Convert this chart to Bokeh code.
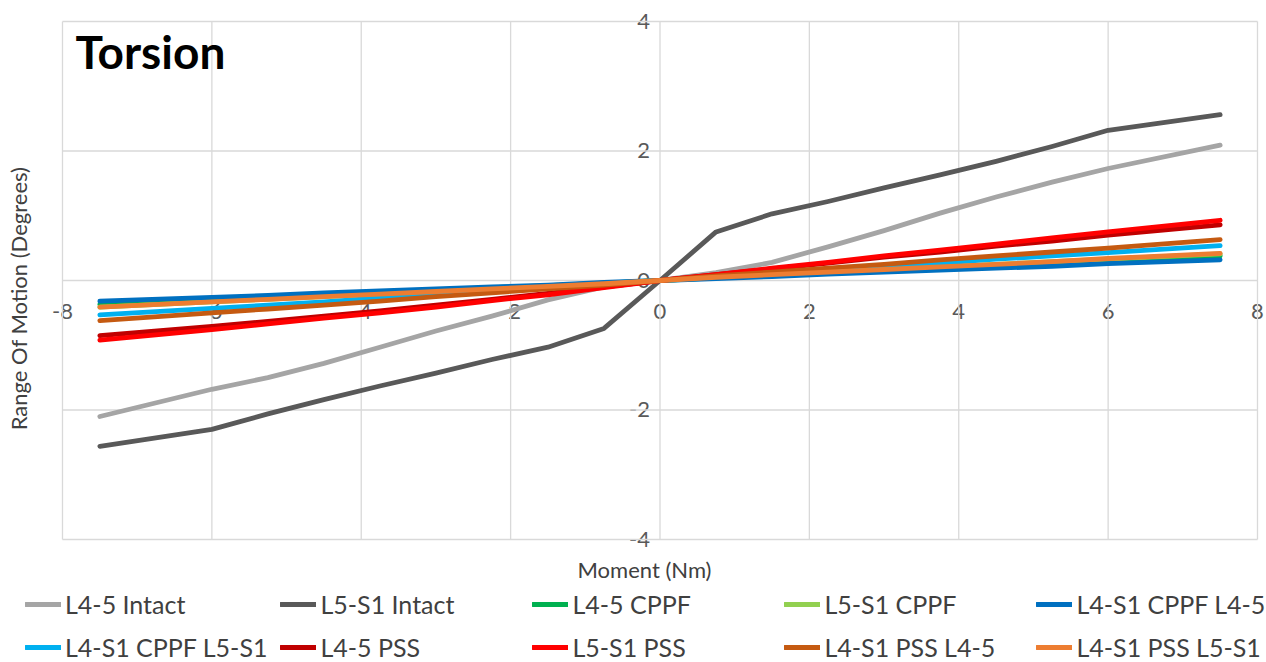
from bokeh.plotting import figure
from bokeh.models import (Range1d, LinearAxis, FixedTicker, Legend, LegendItem, Label)
from bokeh.embed import file_html
from bokeh.resources import INLINE

# ---- data ----
moment = [-7.5, -6, -5.25, -4.5, -3.75, -3, -2.25, -1.5, -0.75, 0,
          0.75, 1.5, 2.25, 3, 3.75, 4.5, 5.25, 6, 7.5]

l45_intact = [-2.10, -1.68, -1.50, -1.28, -1.03, -0.78, -0.55, -0.30, -0.10, 0,
              0.12, 0.28, 0.52, 0.77, 1.04, 1.29, 1.52, 1.73, 2.09]
l5s1_intact = [-2.56, -2.30, -2.06, -1.84, -1.63, -1.43, -1.22, -1.03, -0.74, 0,
               0.75, 1.03, 1.22, 1.43, 1.63, 1.84, 2.07, 2.32, 2.56]
l45_cppf = [-0.37, -0.30, -0.26, -0.22, -0.19, -0.15, -0.11, -0.08, -0.04, 0,
            0.04, 0.08, 0.11, 0.15, 0.19, 0.22, 0.26, 0.30, 0.38]
l5s1_cppf = [-0.41, -0.33, -0.29, -0.25, -0.21, -0.17, -0.13, -0.09, -0.05, 0,
             0.05, 0.09, 0.13, 0.17, 0.21, 0.25, 0.29, 0.33, 0.41]
l4s1_cppf_l45 = [-0.32, -0.26, -0.23, -0.19, -0.16, -0.13, -0.10, -0.07, -0.03, 0,
                 0.03, 0.06, 0.10, 0.13, 0.16, 0.19, 0.22, 0.26, 0.32]
l4s1_cppf_l5s1 = [-0.53, -0.43, -0.38, -0.33, -0.27, -0.22, -0.16, -0.11, -0.06, 0,
                  0.06, 0.11, 0.16, 0.22, 0.27, 0.33, 0.38, 0.43, 0.54]
l45_pss = [-0.85, -0.71, -0.63, -0.55, -0.47, -0.38, -0.29, -0.20, -0.10, 0,
           0.09, 0.18, 0.27, 0.36, 0.44, 0.53, 0.61, 0.70, 0.86]
l5s1_pss = [-0.92, -0.76, -0.67, -0.58, -0.50, -0.41, -0.31, -0.22, -0.11, 0,
            0.09, 0.19, 0.28, 0.38, 0.47, 0.56, 0.66, 0.75, 0.93]
l4s1_pss_l45 = [-0.62, -0.50, -0.44, -0.38, -0.32, -0.25, -0.19, -0.13, -0.07, 0,
                0.07, 0.13, 0.19, 0.25, 0.32, 0.38, 0.44, 0.50, 0.63]
l4s1_pss_l5s1 = [-0.41, -0.33, -0.29, -0.25, -0.21, -0.17, -0.13, -0.09, -0.05, 0,
                 0.05, 0.09, 0.13, 0.17, 0.21, 0.25, 0.29, 0.34, 0.42]

series_names = ["L4-5 Intact", "L5-S1 Intact", "L4-5 CPPF", "L5-S1 CPPF",
                "L4-S1 CPPF L4-5", "L4-S1 CPPF L5-S1", "L4-5 PSS", "L5-S1 PSS",
                "L4-S1 PSS L4-5", "L4-S1 PSS L5-S1"]
series_values = [l45_intact, l5s1_intact, l45_cppf, l5s1_cppf, l4s1_cppf_l45,
                 l4s1_cppf_l5s1, l45_pss, l5s1_pss, l4s1_pss_l45, l4s1_pss_l5s1]
series_colors = ["#A5A5A5", "#595959", "#00B050", "#92D050", "#0070C0",
                 "#00B0F0", "#C00000", "#FF0000", "#C55A11", "#ED7D31"]

x_ticks = [-8, -6, -4, -2, 0, 2, 4, 6, 8]
x_tick_labels = ["-8", "-6", "-4", "-2", "0", "2", "4", "6", "8"]
y_ticks = [-4, -2, 0, 2, 4]
y_tick_labels = ["-4", "-2", "0", "2", "4"]

chart_title = "Torsion"
x_title = "Moment (Nm)"
y_title = "Range Of Motion (Degrees)"

FONT = "Lato"
GRID = "#D9D9D9"
LABEL = "#595959"
TEXT = "#404040"

# the frame covers the whole canvas; the -8..8 / -4..4 box sits inside it
p = figure(width=1266, height=662, x_range=Range1d(-8.830, 8.1205),
           y_range=Range1d(-5.8996, 4.3243),
           output_backend="svg", toolbar_location=None,
           min_border_left=0, min_border_right=0, min_border_top=0, min_border_bottom=0)
p.outline_line_color = None
p.background_fill_color = "white"
p.border_fill_color = "white"
p.xgrid.visible = False
p.ygrid.visible = False
p.xaxis.visible = False
p.yaxis.visible = False

# grid lines drawn from the tick lists
p.segment(x0=x_ticks, y0=[y_ticks[0]] * len(x_ticks), x1=x_ticks, y1=[y_ticks[-1]] * len(x_ticks),
          line_color=GRID, line_width=1.3)
p.segment(x0=[x_ticks[0]] * len(y_ticks), y0=y_ticks, x1=[x_ticks[-1]] * len(y_ticks), y1=y_ticks,
          line_color=GRID, line_width=1.3)

xax = LinearAxis(fixed_location=0, ticker=FixedTicker(ticks=x_ticks),
                 major_label_overrides={t: s for t, s in zip(x_ticks, x_tick_labels)},
                 axis_line_color=None, major_tick_line_color=None, minor_tick_line_color=None,
                 major_tick_out=0, major_tick_in=0, major_label_standoff=24,
                 major_label_text_font=FONT, major_label_text_font_size="22px",
                 major_label_text_color=LABEL, level="underlay")
p.add_layout(xax, "below")
yax = LinearAxis(fixed_location=0, ticker=FixedTicker(ticks=y_ticks),
                 major_label_overrides={t: s for t, s in zip(y_ticks, y_tick_labels)},
                 axis_line_color=None, major_tick_line_color=None, minor_tick_line_color=None,
                 major_tick_out=0, major_tick_in=0, major_label_standoff=10,
                 major_label_text_font=FONT, major_label_text_font_size="22px",
                 major_label_text_color=LABEL, level="underlay")
p.add_layout(yax, "left")

renderers = []
for name, vals, col in zip(series_names, series_values, series_colors):
    r = p.line(moment, vals, line_color=col, line_width=4.8,
               line_cap="round", line_join="round")
    renderers.append(r)

legend = Legend(items=[LegendItem(label=n, renderers=[r]) for n, r in zip(series_names, renderers)],
                orientation="horizontal", ncols=5, location=(25, 0),
                padding=0, margin=0, spacing=13, glyph_width=36, glyph_height=26,
                label_height=26, label_width=199, label_standoff=4, border_line_color=None,
                background_fill_alpha=0, label_text_font=FONT,
                label_text_font_size="25px", label_text_color=TEXT)
p.add_layout(legend)

p.add_layout(Label(x=-7.826, y=3.53, text=chart_title, text_font=FONT,
                   text_font_style="bold", text_font_size="46px", text_color="black",
                   text_baseline="middle"))
p.add_layout(Label(x=-0.2075, y=-4.463, text=x_title, text_font=FONT,
                   text_font_size="22px", text_color=TEXT,
                   text_align="center", text_baseline="middle"))
p.add_layout(Label(x=-8.589, y=-0.278, text=y_title, text_font=FONT, angle=1.5707963,
                   text_font_size="22px", text_color=TEXT,
                   text_align="center", text_baseline="middle"))

open("out.html", "w").write(file_html(p, INLINE))
